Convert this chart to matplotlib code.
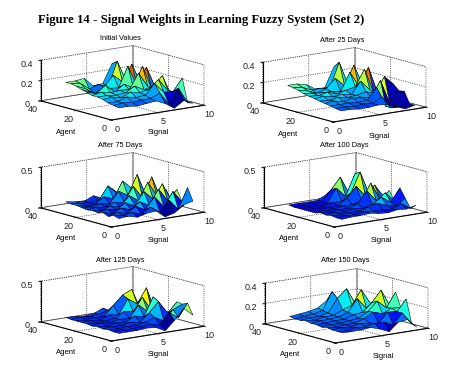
import matplotlib
matplotlib.use('Agg')
import matplotlib.pyplot as plt
import numpy as np

plt.rcParams['font.family'] = ['Liberation Sans', 'DejaVu Sans']

signals = [1, 2, 3, 4, 5, 6, 7, 8, 9]
agents = [1, 4, 7, 10, 13, 16, 19, 22, 25, 28, 31]

# rows: agents, columns: signals
z_initial = [
    [0.10, 0.10, 0.09, 0.10, 0.11, 0.07, 0.01, 0.07, 0.03],
    [0.11, 0.12, 0.11, 0.12, 0.12, 0.16, 0.03, 0.18, 0.02],
    [0.12, 0.12, 0.15, 0.13, 0.14, 0.24, 0.14, 0.13, 0.25],
    [0.14, 0.15, 0.13, 0.17, 0.15, 0.17, 0.25, 0.13, 0.06],
    [0.15, 0.15, 0.14, 0.15, 0.20, 0.15, 0.17, 0.26, 0.04],
    [0.15, 0.17, 0.15, 0.16, 0.15, 0.30, 0.15, 0.09, 0.10],
    [0.17, 0.14, 0.21, 0.13, 0.19, 0.14, 0.34, 0.10, 0.12],
    [0.18, 0.14, 0.12, 0.15, 0.14, 0.34, 0.13, 0.30, 0.08],
    [0.20, 0.16, 0.10, 0.15, 0.25, 0.17, 0.33, 0.12, 0.10],
    [0.21, 0.20, 0.13, 0.16, 0.12, 0.36, 0.14, 0.09, 0.10],
    [0.21, 0.21, 0.22, 0.13, 0.14, 0.32, 0.10, 0.12, 0.09],
]
z_day25 = [
    [0.09, 0.09, 0.08, 0.08, 0.09, 0.08, 0.04, 0.01, 0.03],
    [0.10, 0.10, 0.09, 0.10, 0.09, 0.14, 0.02, 0.02, 0.03],
    [0.11, 0.11, 0.11, 0.10, 0.11, 0.22, 0.02, 0.02, 0.14],
    [0.12, 0.13, 0.11, 0.13, 0.12, 0.11, 0.26, 0.02, 0.13],
    [0.13, 0.12, 0.14, 0.12, 0.13, 0.15, 0.12, 0.27, 0.18],
    [0.14, 0.15, 0.13, 0.14, 0.12, 0.24, 0.14, 0.05, 0.08],
    [0.15, 0.14, 0.16, 0.13, 0.15, 0.17, 0.33, 0.08, 0.06],
    [0.16, 0.15, 0.14, 0.14, 0.12, 0.30, 0.14, 0.32, 0.05],
    [0.18, 0.16, 0.12, 0.15, 0.24, 0.15, 0.34, 0.12, 0.07],
    [0.19, 0.18, 0.14, 0.14, 0.13, 0.37, 0.12, 0.08, 0.08],
    [0.20, 0.20, 0.18, 0.12, 0.12, 0.31, 0.09, 0.10, 0.08],
]
z_day75 = [
    [0.08, 0.09, 0.06, 0.09, 0.10, 0.01, 0.04, 0.12, 0.15],
    [0.10, 0.08, 0.10, 0.06, 0.13, 0.05, 0.18, 0.05, 0.30],
    [0.07, 0.10, 0.07, 0.14, 0.08, 0.22, 0.08, 0.25, 0.10],
    [0.10, 0.07, 0.12, 0.08, 0.16, 0.10, 0.28, 0.12, 0.24],
    [0.08, 0.10, 0.08, 0.15, 0.09, 0.25, 0.14, 0.31, 0.08],
    [0.09, 0.07, 0.11, 0.08, 0.20, 0.12, 0.33, 0.14, 0.20],
    [0.08, 0.09, 0.08, 0.12, 0.10, 0.28, 0.12, 0.36, 0.07],
    [0.09, 0.08, 0.10, 0.08, 0.22, 0.15, 0.39, 0.10, 0.08],
    [0.10, 0.07, 0.08, 0.15, 0.11, 0.31, 0.20, 0.10, 0.06],
    [0.10, 0.09, 0.08, 0.09, 0.25, 0.14, 0.12, 0.08, 0.06],
    [0.11, 0.09, 0.08, 0.13, 0.08, 0.18, 0.08, 0.06, 0.06],
]
z_day100 = [
    [0.07, 0.08, 0.08, 0.09, 0.07, 0.06, 0.08, 0.07, 0.10],
    [0.07, 0.08, 0.07, 0.09, 0.08, 0.08, 0.07, 0.12, 0.04],
    [0.08, 0.07, 0.08, 0.08, 0.11, 0.14, 0.10, 0.07, 0.15],
    [0.07, 0.08, 0.07, 0.09, 0.08, 0.11, 0.18, 0.10, 0.26],
    [0.08, 0.07, 0.08, 0.08, 0.12, 0.26, 0.12, 0.20, 0.08],
    [0.06, 0.07, 0.07, 0.09, 0.09, 0.12, 0.32, 0.10, 0.19],
    [0.06, 0.06, 0.07, 0.08, 0.15, 0.28, 0.14, 0.26, 0.09],
    [0.06, 0.06, 0.06, 0.10, 0.09, 0.18, 0.42, 0.12, 0.06],
    [0.06, 0.06, 0.06, 0.07, 0.24, 0.12, 0.38, 0.10, 0.05],
    [0.06, 0.07, 0.07, 0.08, 0.20, 0.34, 0.11, 0.06, 0.01],
    [0.07, 0.07, 0.07, 0.07, 0.12, 0.16, 0.06, 0.05, 0.05],
]
z_day125 = [
    [0.07, 0.07, 0.07, 0.08, 0.07, 0.01, 0.12, 0.25, 0.15],
    [0.07, 0.08, 0.07, 0.08, 0.09, 0.07, 0.20, 0.12, 0.28],
    [0.08, 0.07, 0.08, 0.08, 0.10, 0.14, 0.08, 0.20, 0.25],
    [0.07, 0.08, 0.08, 0.10, 0.08, 0.18, 0.30, 0.14, 0.26],
    [0.08, 0.07, 0.09, 0.08, 0.14, 0.11, 0.34, 0.16, 0.10],
    [0.07, 0.09, 0.08, 0.10, 0.09, 0.24, 0.14, 0.26, 0.08],
    [0.08, 0.07, 0.08, 0.09, 0.16, 0.14, 0.30, 0.11, 0.08],
    [0.08, 0.08, 0.07, 0.12, 0.10, 0.28, 0.20, 0.38, 0.06],
    [0.08, 0.07, 0.09, 0.08, 0.20, 0.31, 0.36, 0.08, 0.06],
    [0.08, 0.09, 0.08, 0.09, 0.12, 0.18, 0.10, 0.06, 0.06],
    [0.09, 0.08, 0.07, 0.08, 0.13, 0.07, 0.08, 0.06, 0.06],
]
z_day150 = [
    [0.08, 0.08, 0.08, 0.09, 0.06, 0.02, 0.10, 0.11, 0.02],
    [0.08, 0.07, 0.09, 0.08, 0.10, 0.10, 0.06, 0.16, 0.04],
    [0.08, 0.09, 0.08, 0.10, 0.09, 0.07, 0.17, 0.16, 0.27],
    [0.09, 0.08, 0.09, 0.09, 0.12, 0.17, 0.14, 0.18, 0.17],
    [0.08, 0.09, 0.09, 0.10, 0.11, 0.16, 0.25, 0.17, 0.31],
    [0.09, 0.09, 0.10, 0.10, 0.13, 0.14, 0.22, 0.33, 0.15],
    [0.09, 0.10, 0.10, 0.11, 0.14, 0.26, 0.15, 0.22, 0.10],
    [0.10, 0.09, 0.11, 0.11, 0.15, 0.18, 0.32, 0.17, 0.09],
    [0.09, 0.10, 0.10, 0.12, 0.25, 0.33, 0.16, 0.10, 0.08],
    [0.09, 0.10, 0.11, 0.13, 0.30, 0.16, 0.22, 0.08, 0.08],
    [0.10, 0.11, 0.12, 0.14, 0.20, 0.12, 0.09, 0.08, 0.08],
]

panels = [z_initial, z_day25, z_day75, z_day100, z_day125, z_day150]
titles = ['Initial Values', 'After 25 Days', 'After 75 Days',
          'After 100 Days', 'After 125 Days', 'After 150 Days']
z_tops = [0.4, 0.4, 0.5, 0.5, 0.5, 0.4]
z_ticks = [[0, 0.2, 0.4], [0, 0.2, 0.4], [0, 0.5], [0, 0.5], [0, 0.5], [0, 0.2, 0.4]]
z_labels = [['0', '0.2', '0.4'], ['0', '0.2', '0.4'], ['0', '0.5'], ['0', '0.5'], ['0', '0.5'], ['0', '0.2', '0.4']]
color_tops = [0.42, 0.42, 0.46, 0.46, 0.46, 0.42]

W, H = 462.0, 381.0
# centre of each 3d box in pixels
centers = [(120, 85), (342, 87), (120, 192), (343, 192), (120, 306), (344, 308)]
title_pos = [(120, 38), (342, 41), (120, 145), (344, 145), (120, 260), (345, 260)]
agent_pos = [(66, 132), (288, 134), (66, 239), (289, 239), (66, 353), (290, 354)]
signal_pos = [(158, 133), (379, 136), (158, 240), (381, 240), (158, 354), (383, 356)]
size = 165

fig = plt.figure(figsize=(W / 100, H / 100), dpi=100)
fig.text(38 / W, 1 - 20 / H, 'Figure 14 - Signal Weights in Learning Fuzzy System (Set 2)',
         family='Liberation Serif', weight='bold', fontsize=9.2, va='center')

X, Y = np.meshgrid(signals, agents)
jet = plt.get_cmap('jet')
for i in range(6):
    cx, cy = centers[i]
    ax = fig.add_axes([(cx - size / 2) / W, 1 - (cy + size / 2) / H, size / W, size / H],
                      projection='3d', proj_type='ortho')
    ax.patch.set_alpha(0)
    ax.set_box_aspect((1, 1, 0.355), zoom=1.0)
    ax.view_init(elev=12, azim=-127.5)
    Z = np.array(panels[i])
    colors = jet(Z / color_tops[i])
    ax.plot_surface(X, Y, Z, facecolors=colors, edgecolor='k', linewidth=0.35,
                    rstride=1, cstride=1, shade=False)
    ax.set_xlim(0, 10)
    ax.set_ylim(0, 40)
    ax.set_zlim(0, z_tops[i])
    ax.set_xticks([0, 5, 10])
    ax.set_yticks([0, 20, 40])
    ax.set_zticks(z_ticks[i])
    ax.set_zticklabels(z_labels[i])
    ax.tick_params(labelsize=6.5, pad=-3, length=0, colors='#222222')
    ax.zaxis.set_ticks_position('upper')
    for axis in [ax.xaxis, ax.yaxis, ax.zaxis]:
        axis.pane.set_facecolor((1, 1, 1, 0))
        axis.pane.set_edgecolor('k')
        axis.pane.set_linestyle(':')
        axis.pane.set_linewidth(0.6)
        axis._axinfo['grid'].update(color='k', linestyle=':', linewidth=0.5)
        axis.line.set_linewidth(0.8)
    fig.text(agent_pos[i][0] / W, 1 - agent_pos[i][1] / H, 'Agent', fontsize=5.5, ha='center', va='center')
    fig.text(signal_pos[i][0] / W, 1 - signal_pos[i][1] / H, 'Signal', fontsize=5.5, ha='center', va='center')
    fig.text(title_pos[i][0] / W, 1 - title_pos[i][1] / H, titles[i], fontsize=5.3, ha='center', va='center')

fig.savefig('out.png', dpi=100)
